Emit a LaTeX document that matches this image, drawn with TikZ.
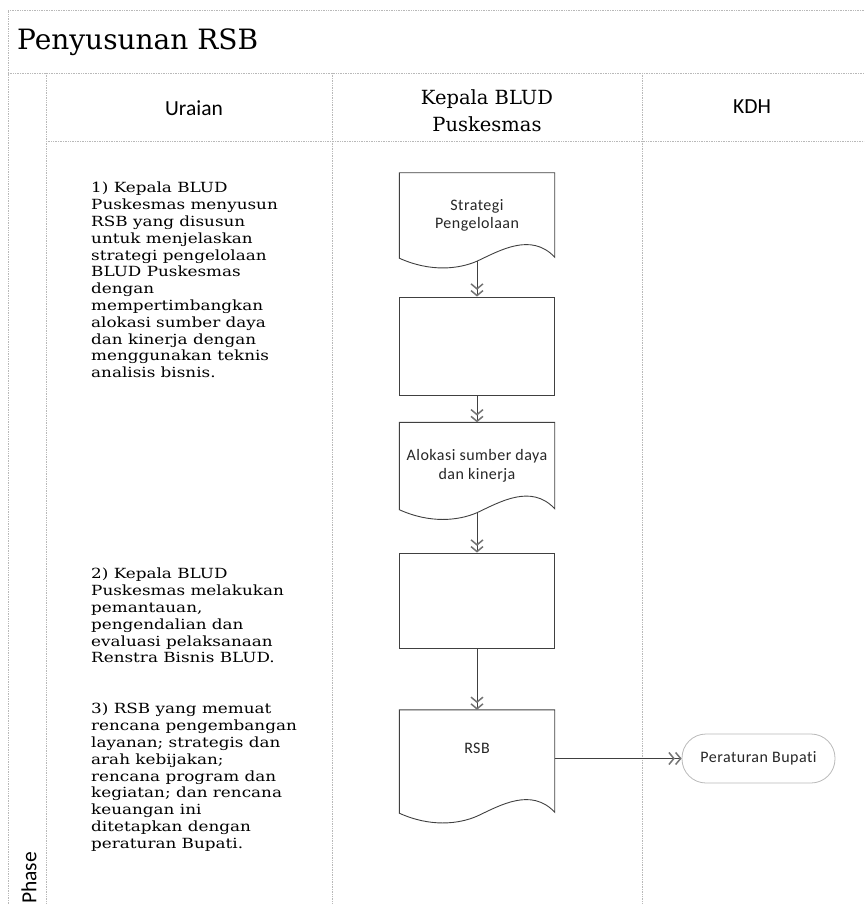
\documentclass[tikz,border=0pt]{standalone}
\usepackage{fontspec}
\setmainfont{DejaVu Serif}
\newfontfamily\bodyserif[FakeStretch=1.2]{DejaVu Serif}
\newfontfamily\labelsans{Carlito}
\newfontfamily\boxsans[LetterSpace=3,Ligatures={NoCommon}]{Carlito}
\usetikzlibrary{calc,arrows.meta}

% outline of a flowchart "document" box drawn around a named node
\newcommand\docoutline[1]{%
  \draw[shapeline] (#1.south west) -- (#1.north west) -- (#1.north east)
    -- ($(#1.south east)+(0,-1)$)
    .. controls ($(#1.south west)!0.85!(#1.south east)+(0,-26)$)
            and ($(#1.south west)!0.65!(#1.south east)+(0,-8)$)
    .. ($(#1.south west)!0.5!(#1.south east)+(0,3)$)
    .. controls ($(#1.south west)!0.38!(#1.south east)+(0,11)$)
            and ($(#1.south west)!0.2!(#1.south east)+(0,14)$)
    .. cycle;}

\begin{document}
\begin{tikzpicture}[x=1pt,y=-1pt,
  lane/.style={draw=gray!55, line width=0.7pt, densely dotted},
  shapeline/.style={draw=black!75, line width=0.9pt},
  flow/.style={draw=black!75, line width=0.8pt,
    -{Straight Barb[length=5pt,width=12pt,line width=1.5pt,color=black!55]
      Straight Barb[length=5pt,width=12pt,line width=1.5pt,color=black!55]}},
  sanslabel/.style={font=\boxsans\fontsize{16}{18.5}\selectfont, text=black!85},
  docbox/.style={sanslabel, minimum width=155pt, inner sep=0pt, align=center},
  procbox/.style={shapeline, minimum width=155pt, inner sep=0pt},
  terminal/.style={sanslabel, draw=gray!55, line width=0.8pt, rounded corners=24pt,
    minimum width=153pt, minimum height=49pt, inner sep=0pt},
  headsans/.style={font=\labelsans\fontsize{21.5}{25}\selectfont},
  bodytext/.style={anchor=north west, inner sep=0pt, align=left,
    font=\bodyserif\fontsize{14}{16.8}\selectfont}
]
\useasboundingbox (0,0) rectangle (864,904);
\clip (0,0) rectangle (864,904);

% swimlane frame
\draw[lane] (8,904) -- (8,10) -- (880,10);
\draw[lane] (8,73) -- (880,73);
\draw[lane] (46,73) -- (46,904);
\draw[lane] (46,141) -- (880,141);
\draw[lane] (332,73) -- (332,904);
\draw[lane] (642,73) -- (642,904);

% title and lane headers
\node[anchor=base west, inner sep=0pt, font=\rmfamily\fontsize{28}{32}\selectfont]
  (title) at (17,50) {Penyusunan RSB};
\node[headsans] (h-uraian) at (194,108) {Uraian};
\node[font=\rmfamily\fontsize{19.5}{27}\selectfont, align=center]
  (h-kepala) at (487,111) {Kepala BLUD\\Puskesmas};
\node[headsans] (h-kdh) at (752,107) {KDH};
\node[headsans, rotate=90] (phase) at (29,878) {Phase};

% description column
\node[bodytext] (step1) at (91,182) {1) Kepala BLUD\\Puskesmas menyusun\\RSB yang disusun\\untuk menjelaskan\\strategi pengelolaan\\BLUD Puskesmas\\dengan\\mempertimbangkan\\alokasi sumber daya\\dan kinerja dengan\\menggunakan teknis\\analisis bisnis.};
\node[bodytext] (step2) at (91,568) {2) Kepala BLUD\\Puskesmas melakukan\\pemantauan,\\pengendalian dan\\evaluasi pelaksanaan\\Renstra Bisnis BLUD.};
\node[bodytext] (step3) at (91,703) {3) RSB yang memuat\\rencana pengembangan\\layanan; strategis dan\\arah kebijakan;\\rencana program dan\\kegiatan; dan rencana\\keuangan ini\\ditetapkan dengan\\peraturan Bupati.};

% flow in the Kepala BLUD lane
\node[docbox, minimum height=85pt] (doc1) at (477,215.5) {Strategi\\Pengelolaan};
\docoutline{doc1}
\node[procbox, minimum height=98pt] (proc2) at (477,346) {};
\node[docbox, minimum height=87pt] (doc3) at (477,466) {Alokasi sumber daya\\dan kinerja};
\docoutline{doc3}
\node[procbox, minimum height=95pt] (proc4) at (477,600.5) {};
\node[docbox, minimum height=103pt] (doc5) at (477,761.5) {};
\docoutline{doc5}
\node[sanslabel] (doc5text) at (477,748) {RSB};

% KDH lane
\node[terminal] (bupati) at (758.5,758.5) {Peraturan Bupati};

% connectors
\draw[flow] ($(doc1.south)+(0,3)$) -- (proc2.north);
\draw[flow] (proc2.south) -- (doc3.north);
\draw[flow] ($(doc3.south)+(0,3)$) -- (proc4.north);
\draw[flow] (proc4.south) -- (doc5.north);
\draw[flow] (bupati.west -| doc5.east) -- (bupati.west);
\end{tikzpicture}
\end{document}
